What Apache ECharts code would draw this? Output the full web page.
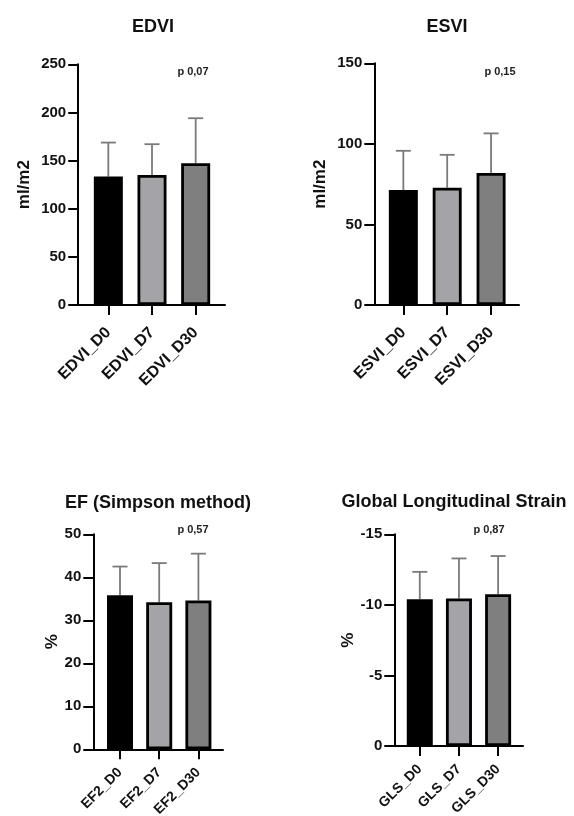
<!DOCTYPE html>
<html><head><meta charset="utf-8">
<script src="https://cdn.jsdelivr.net/npm/echarts@6/dist/echarts.min.js"></script>
<style>html,body{margin:0;padding:0;background:#fff}#c{width:574px;height:816px}</style>
</head><body><div id="c"></div>
<script>
// ---- data ----
const edviCats = ['EDVI_D0', 'EDVI_D7', 'EDVI_D30'];
const edviMean = [133.4, 135.0, 147.3];
const edviSD = [35.3, 32.0, 46.7];
const edviTicks = [0, 50, 100, 150, 200, 250];

const esviCats = ['ESVI_D0', 'ESVI_D7', 'ESVI_D30'];
const esviMean = [71.3, 72.8, 81.9];
const esviSD = [24.4, 20.4, 24.6];
const esviTicks = [0, 50, 100, 150];

const efCats = ['EF2_D0', 'EF2_D7', 'EF2_D30'];
const efMean = [35.8, 34.2, 34.6];
const efSD = [6.7, 9.1, 10.9];
const efTicks = [0, 10, 20, 30, 40, 50];

const glsCats = ['GLS_D0', 'GLS_D7', 'GLS_D30'];
const glsMean = [-10.4, -10.45, -10.76];
const glsSD = [1.94, 2.84, 2.70];
const glsTicks = [-15, -10, -5, 0];

const titles = ['EDVI', 'ESVI', 'EF (Simpson method)', 'Global Longitudinal Strain'];
const pValues = ['p 0,07', 'p 0,15', 'p 0,57', 'p 0,87'];
const yNames = ['ml/m2', 'ml/m2', '%', '%'];

// ---- styling / layout ----
const FONT = "'Liberation Sans', Arial, sans-serif";
const barColors = ['#000000', '#a3a3a8', '#7f7f7f'];
const errColor = '#7a7a7a';

const panels = [
  {cats: edviCats, mean: edviMean, sd: edviSD, ticks: edviTicks, inverse: false,
   axisX: 78.2, lineEnd: 225, bandLeft: 86.5, bandW: 131, top: 64.3, bottom: 305,
   barW: 29, nameGap: 45, catFont: 16, catMargin: 25, titleX: 153, titleY: 27, pX: 193, pY: 72},
  {cats: esviCats, mean: esviMean, sd: esviSD, ticks: esviTicks, inverse: false,
   axisX: 374.3, lineEnd: 519, bandLeft: 381.4, bandW: 131.6, top: 63.3, bottom: 305,
   barW: 29, nameGap: 45, catFont: 16, catMargin: 25, titleX: 447, titleY: 27, pX: 500, pY: 72},
  {cats: efCats, mean: efMean, sd: efSD, ticks: efTicks, inverse: false,
   axisX: 93.3, lineEnd: 223, bandLeft: 100.4, bandW: 117.6, top: 534.3, bottom: 749.3,
   barW: 26, nameGap: 32, catFont: 14, catMargin: 21, titleX: 158, titleY: 503, pX: 193, pY: 530},
  {cats: glsCats, mean: glsMean, sd: glsSD, ticks: glsTicks, inverse: true,
   axisX: 394.3, lineEnd: 523, bandLeft: 400.2, bandW: 117.5, top: 534.3, bottom: 746,
   barW: 26, nameGap: 37, catFont: 14, catMargin: 21, titleX: 454, titleY: 502, pX: 489, pY: 530}
];

const grid = [], xAxis = [], yAxis = [], series = [], graphic = [];

panels.forEach((p, k) => {
  const h = p.bottom - p.top;
  const gA = 2 * k, gB = 2 * k + 1;
  grid.push({left: p.axisX, top: p.top, width: p.lineEnd - p.axisX, height: h, containLabel: false, outerBoundsMode: 'none'});
  grid.push({left: p.bandLeft, top: p.top, width: p.bandW, height: h, containLabel: false, outerBoundsMode: 'none'});

  const tmin = p.ticks[0], tmax = p.ticks[p.ticks.length - 1];
  const step = p.ticks[1] - p.ticks[0];

  // wide grid: x axis baseline only
  xAxis.push({gridIndex: gA, type: 'value', min: 0, max: 1, position: 'bottom',
    axisLine: {show: true, onZero: false, lineStyle: {color: '#000', width: 2}},
    axisTick: {show: false}, axisLabel: {show: false}, splitLine: {show: false}});
  yAxis.push({gridIndex: gA, type: 'value', min: 0, max: 1, show: false});

  // band grid: categories + visible y axis
  xAxis.push({gridIndex: gB, type: 'category', data: p.cats, position: 'bottom',
    axisLine: {show: false},
    axisTick: {show: true, alignWithLabel: true, length: 10, lineStyle: {color: '#000', width: 2}},
    axisLabel: {rotate: 45, margin: p.catMargin, color: '#111', fontSize: p.catFont, fontWeight: 'bold', fontFamily: FONT, interval: 0},
    splitLine: {show: false}});
  yAxis.push({gridIndex: gB, type: 'value', min: tmin, max: tmax, interval: step, inverse: p.inverse,
    offset: p.bandLeft - p.axisX,
    name: yNames[k], nameLocation: 'middle', nameGap: p.nameGap, nameRotate: 90,
    nameTextStyle: {fontSize: 17, fontWeight: 'bold', color: '#111', fontFamily: FONT},
    axisLine: {show: true, onZero: false, lineStyle: {color: '#000', width: 2}},
    axisTick: {show: true, length: 10, lineStyle: {color: '#000', width: 2}},
    axisLabel: {color: '#111', fontSize: 15, fontWeight: 'bold', fontFamily: FONT, margin: 12},
    splitLine: {show: false}});

  series.push({type: 'bar', xAxisIndex: gB, yAxisIndex: gB, barWidth: p.barW, z: 3,
    data: p.mean.map((v, i) => ({value: v, itemStyle: {color: barColors[i]}})),
    itemStyle: {borderColor: '#000', borderWidth: 2.8}, animation: false});

  series.push({type: 'custom', xAxisIndex: gB, yAxisIndex: gB, z: 2, animation: false,
    encode: {x: 0, y: 1},
    data: p.mean.map((v, i) => [i, v, p.sd[i]]),
    renderItem: function (params, api) {
      const i = api.value(0), m = api.value(1), s = api.value(2);
      const tv = m + (m < 0 ? -s : s);
      const a = api.coord([i, m]);
      const b = api.coord([i, tv]);
      const cap = 7.5;
      const st = {stroke: errColor, lineWidth: 1.8};
      return {type: 'group', children: [
        {type: 'line', shape: {x1: a[0], y1: a[1], x2: b[0], y2: b[1]}, style: st},
        {type: 'line', shape: {x1: b[0] - cap, y1: b[1], x2: b[0] + cap, y2: b[1]}, style: st}
      ]};
    }});

  graphic.push({type: 'text', x: p.titleX, y: p.titleY,
    style: {text: titles[k], align: 'center', verticalAlign: 'middle', font: "bold 18px " + FONT, fill: '#111'}});
  graphic.push({type: 'text', x: p.pX, y: p.pY,
    style: {text: pValues[k], align: 'center', verticalAlign: 'middle', font: "bold 11px " + FONT, fill: '#222'}});
});

const chart = echarts.init(document.getElementById('c'), null, {renderer: 'canvas'});
chart.setOption({animation: false, backgroundColor: '#fff', grid, xAxis, yAxis, series, graphic});
</script>
</body></html>
